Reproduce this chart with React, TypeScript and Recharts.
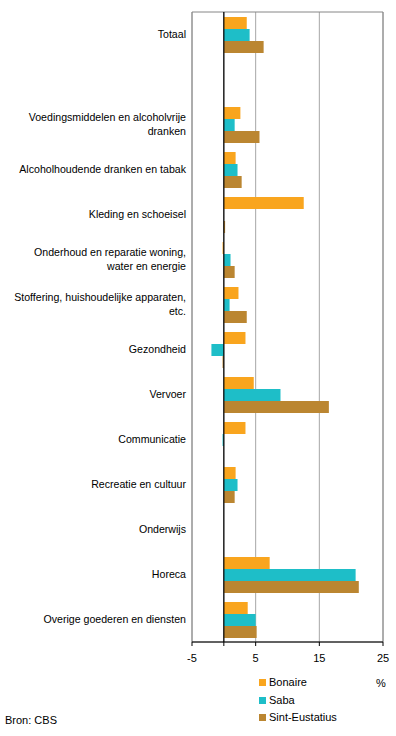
import React from 'react';
import { BarChart, Bar, XAxis, YAxis, CartesianGrid, ReferenceLine, ReferenceArea } from 'recharts';

const categories = [
  'Totaal',
  ' ',
  'Voedingsmiddelen en alcoholvrije\ndranken',
  'Alcoholhoudende dranken en tabak',
  'Kleding en schoeisel',
  'Onderhoud en reparatie woning,\nwater en energie',
  'Stoffering, huishoudelijke apparaten,\netc.',
  'Gezondheid',
  'Vervoer',
  'Communicatie',
  'Recreatie en cultuur',
  'Onderwijs',
  'Horeca',
  'Overige goederen en diensten',
];

const bonaire = [3.6, null, 2.6, 1.85, 12.55, -0.2, 2.3, 3.4, 4.7, 3.4, 1.85, 0, 7.2, 3.75];
const saba = [4.05, null, 1.7, 2.15, 0, 1.05, 0.9, -1.95, 8.9, -0.2, 2.15, 0, 20.7, 5.0];
const sintEustatius = [6.25, null, 5.6, 2.8, 0.2, 1.7, 3.6, -0.2, 16.5, 0, 1.7, 0, 21.2, 5.15];

const xTicks = [-5, 0, 5, 15, 25];

const seriesNames = ['Bonaire', 'Saba', 'Sint-Eustatius'];
const seriesColors = ['#F9A51E', '#1EBEC8', '#BB8631'];

const data = categories.map((name, i) => ({
  name,
  bonaire: bonaire[i],
  saba: saba[i],
  sintEustatius: sintEustatius[i],
}));

const FONT = '"Liberation Sans", Arial, sans-serif';

const CategoryTick = (props: any) => {
  const { x, y, payload } = props;
  const lines = String(payload.value).split('\n');
  const start = -((lines.length - 1) * 14) / 2;
  return (
    <text x={x} y={y} textAnchor="end" fontSize={10.6} fill="#000" fontFamily={FONT}>
      {lines.map((l, i) => (
        <tspan key={i} x={x} y={y + start + i * 14} dy="0.35em">{l}</tspan>
      ))}
    </text>
  );
};

const ValueTick = (props: any) => {
  const { x, y, payload } = props;
  if (payload.value === 0) return null;
  return (
    <text x={x} y={y} textAnchor="middle" fontSize={11} fill="#000" fontFamily={FONT} dy="0.71em">
      {payload.value}
    </text>
  );
};

export default function App() {
  return (
    <div style={{ position: 'absolute', left: 0, top: 0, width: 396, height: 736, fontFamily: FONT, background: '#fff' }}>
      <BarChart
        width={396}
        height={736}
        data={data}
        layout="vertical"
        margin={{ top: 12, right: 13, left: 0, bottom: 64 }}
        barSize={12}
        barGap={0}
        barCategoryGap={4.5}
      >
        <CartesianGrid horizontal={false} stroke="#A6A6A6" />
        <ReferenceArea x1={-5} x2={25} fill="none" stroke="#868686" ifOverflow="visible" />
        <XAxis
          type="number"
          domain={[-5, 25]}
          ticks={xTicks}
          interval={0}
          height={30}
          axisLine={{ stroke: '#000' }}
          tickLine={{ stroke: '#000' }}
          tickSize={4}
          tickMargin={8}
          tick={<ValueTick />}
        />
        <YAxis
          type="category"
          dataKey="name"
          width={192}
          axisLine={false}
          tickLine={false}
          tickSize={0}
          tickMargin={6}
          interval={0}
          tick={<CategoryTick />}
        />
        <Bar dataKey="bonaire" fill={seriesColors[0]} isAnimationActive={false} />
        <Bar dataKey="saba" fill={seriesColors[1]} isAnimationActive={false} />
        <Bar dataKey="sintEustatius" fill={seriesColors[2]} isAnimationActive={false} />
        <ReferenceLine x={0} stroke="#000" strokeWidth={1.2} />
      </BarChart>
      <div style={{ position: 'absolute', left: 259, top: 674, fontSize: 11, lineHeight: '17.5px' }}>
        {seriesNames.map((n, i) => (
          <div key={n} style={{ display: 'flex', alignItems: 'center' }}>
            <span style={{ width: 7, height: 7, background: seriesColors[i], marginRight: 3, display: 'inline-block' }} />
            <span>{n}</span>
          </div>
        ))}
      </div>
      <div style={{ position: 'absolute', left: 376, top: 677, fontSize: 11 }}>%</div>
      <div style={{ position: 'absolute', left: 5, top: 714, fontSize: 11 }}>Bron: CBS</div>
    </div>
  );
}
